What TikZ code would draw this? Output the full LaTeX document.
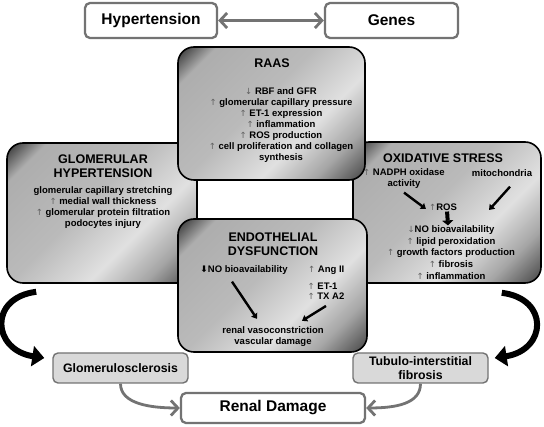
\documentclass[tikz,border=0pt]{standalone}
\usepackage{fontspec}
\setmainfont{Liberation Sans}
\newfontfamily\symfont{DejaVu Sans}
\usetikzlibrary{arrows.meta, positioning}
\pgfdeclarehorizontalshading{metal}{100bp}{color(0bp)=(black!85); color(15bp)=(black!80); color(23bp)=(black!32); color(45bp)=(black!27); color(62bp)=(black!12); color(74bp)=(black!35); color(85bp)=(black!72); color(100bp)=(black!75)}
\newcommand{\incr}{{\color{black!62}\symfont\mdseries\fontsize{8.5}{8}\selectfont↑}}
\newcommand{\decr}{{\color{black!62}\symfont\mdseries\fontsize{8.5}{8}\selectfont↓}}
\tikzset{
  panel/.style={draw, line width=1.6pt, rounded corners=16pt, shade, shading=metal, shading angle=-45, inner sep=0pt},
  title/.style={font=\fontsize{12.5}{14}\selectfont\bfseries, align=center, inner sep=0pt},
  body/.style={font=\fontsize{9.5}{11}\selectfont\bfseries, align=center, inner sep=0pt},
  topbox/.style={draw=black!55, line width=2.3pt, rounded corners=5pt, fill=white, font=\fontsize{15.5}{17}\selectfont\bfseries, minimum height=35pt},
  outcome/.style={draw=black!55, line width=1.4pt, rounded corners=5pt, fill=black!15, font=\fontsize{12.3}{14.5}\selectfont\bfseries, align=center, minimum width=135pt, minimum height=30pt, inner sep=1pt},
  link/.style={draw=black!55, line width=2.8pt, -{Straight Barb[length=7pt,width=15pt]}},
  push/.style={line width=2.4pt, -{Triangle[length=5pt,width=7pt]}},
  swoosh/.style={line width=6pt, -{Triangle[length=12pt,width=20pt]}}
}

\begin{document}
\begin{tikzpicture}[x=1pt, y=-1pt]
\useasboundingbox (0,0) rectangle (544,427);
\node[topbox, minimum width=132pt] (hyp) at (151,20.5) {Hypertension};
\node[topbox, minimum width=133pt] (genes) at (391.5,20.5) {Genes};
\draw[link, {Straight Barb[length=7pt,width=15pt]}-{Straight Barb[length=7pt,width=15pt]}] (hyp) -- (genes);

\node[panel, minimum width=190pt, minimum height=140pt] (gh) at (102,213) {};
\node[panel, minimum width=188pt, minimum height=141pt] (os) at (447,212.5) {};
\node[panel, minimum width=187pt, minimum height=133pt] (raas) at (271.5,113.5) {};
\node[panel, minimum width=189pt, minimum height=133pt] (ed) at (272.5,285.5) {};

\node[title] (raastitle) at (272,63) {RAAS};
\node[body] (raasbody) at (281,125) {\decr{} RBF and GFR\\\incr{} glomerular capillary pressure\\\incr{} ET-1 expression\\\incr{} inflammation\\\incr{} ROS production\\\incr{} cell proliferation and collagen\\synthesis};

\node[title] (ghtitle) at (103,166) {GLOMERULAR\\HYPERTENSION};
\node[body] (ghbody) at (103,207.5) {glomerular capillary stretching\\\incr{} medial wall thickness\\\incr{} glomerular protein filtration\\podocytes injury};

\node[title] (ostitle) at (443,158) {OXIDATIVE STRESS};
\node[body] (nadph) at (404,178.5) {\incr{} NADPH oxidase\\activity};
\node[body] (mito) at (502,173) {mitochondria};
\node[body] (ros) at (443,207) {\incr ROS};
\node[body, font=\fontsize{9.5}{11.7}\selectfont\bfseries] (oslist) at (451,252.5) {\decr NO bioavailability\\\incr{} lipid peroxidation\\\incr{} growth factors production\\\incr{} fibrosis\\\incr{} inflammation};
\draw[push] ([yshift=-4pt]nadph.south) -- ([xshift=-3pt,yshift=-2pt]ros.west);
\draw[push] ([xshift=8pt,yshift=-10pt]mito.south) -- ([xshift=32pt,yshift=-3pt]ros.east);
\draw[line width=4pt, -{Triangle[length=5pt,width=11pt]}, shorten <=1pt] ([xshift=4pt]ros.south) -- ([xshift=-3pt]oslist.north);

\node[title] (edtitle) at (273,244) {ENDOTHELIAL\\DYSFUNCTION};
\node[body] (no) at (244,270) {{\symfont\fontsize{9}{11}\selectfont ⬇}NO bioavailability};
\node[body, anchor=west] (ang) at (308,270) {\incr{} Ang II};
\node[body, align=left, font=\fontsize{9.5}{10}\selectfont\bfseries] (et) at (326,291.5) {\incr{} ET-1\\\incr{} TX A2};
\node[body] (vaso) at (273,337) {renal vasoconstriction\\vascular damage};
\draw[push] ([xshift=-12pt,yshift=-7pt]no.south) -- ([xshift=-16pt,yshift=8pt]vaso.north);
\draw[push] ([yshift=-6pt]et.south) -- ([xshift=29pt,yshift=6pt]vaso.north);

\node[outcome] (glom) at (120.5,368) {Glomerulosclerosis};
\node[outcome] (tub) at (420.5,368) {Tubulo-interstitial\\fibrosis};
\node[topbox, minimum width=184pt, minimum height=30pt] (renal) at (273,408) {Renal Damage};
\draw[link] (glom.south) .. controls +(0,20) and +(-30,0) .. (renal.west);
\draw[link] (tub.south) .. controls +(0,20) and +(30,0) .. (renal.east);

\draw[swoosh] ([xshift=30pt,yshift=-8pt]gh.south west) .. controls +(-48,6) and +(-52,-8) .. ([xshift=-8pt,yshift=10pt]glom.west);
\draw[swoosh] ([xshift=-40pt,yshift=-9pt]os.south east) .. controls +(48,6) and +(52,-8) .. ([xshift=6pt,yshift=10pt]tub.east);
\end{tikzpicture}
\end{document}
